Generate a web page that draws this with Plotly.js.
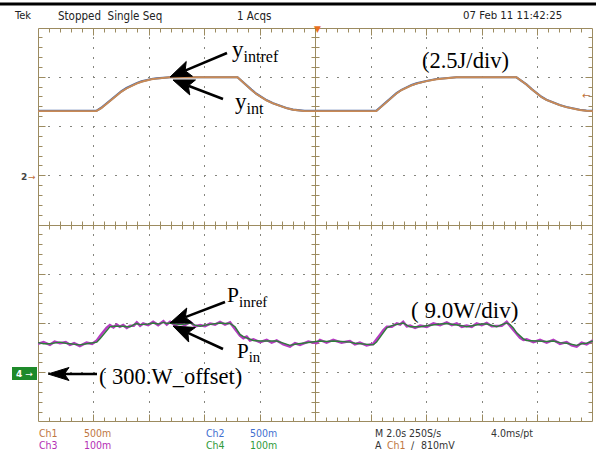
<!DOCTYPE html>
<html><head><meta charset="utf-8">
<script src="https://cdn.plot.ly/plotly-3.0.1.min.js"></script>
<style>html,body{margin:0;padding:0;background:#fff;}#chart{width:596px;height:450px;}</style>
</head><body><div id="chart"></div>
<script>
// ---- DATA ----
// time base: 2.0 s/div, 10 divisions
const timeRange = [0, 20];
// Ch1: y_int (J), Ch2: y_intref (J)   (2.5 J/div)
const yintTime = [0, 2.10, 2.28, 2.46, 2.65, 2.83, 3.01, 3.19, 3.37, 3.55, 3.73, 3.91, 4.09, 4.27, 4.51, 4.75, 7.19, 7.35, 7.51, 7.69, 7.87, 8.05, 8.23, 8.47, 8.71, 8.95, 9.19, 9.40, 9.61, 12.19, 12.37, 12.56, 12.74, 12.92, 13.10, 13.28, 13.46, 13.64, 13.82, 14.0, 14.36, 14.72, 15.08, 17.24, 17.42, 17.6, 17.78, 17.96, 18.14, 18.32, 18.56, 18.8, 19.04, 19.28, 19.52, 19.76, 20.0];
const yintValue = [3.28, 3.28, 3.43, 3.63, 3.87, 4.08, 4.27, 4.43, 4.57, 4.68, 4.77, 4.85, 4.90, 4.93, 4.97, 5.0, 5.0, 4.78, 4.58, 4.36, 4.15, 3.98, 3.83, 3.67, 3.53, 3.43, 3.35, 3.30, 3.28, 3.28, 3.50, 3.75, 3.97, 4.18, 4.35, 4.48, 4.59, 4.68, 4.75, 4.80, 4.90, 4.96, 5.0, 5.0, 4.82, 4.63, 4.40, 4.18, 4.00, 3.85, 3.70, 3.58, 3.48, 3.40, 3.34, 3.30, 3.28];
const yintrefTime = [0, 2.10, 2.28, 2.46, 2.65, 2.83, 3.01, 3.19, 3.37, 3.55, 3.73, 3.91, 4.09, 4.27, 4.51, 4.75, 7.19, 7.35, 7.51, 7.69, 7.87, 8.05, 8.23, 8.47, 8.71, 8.95, 9.19, 9.40, 9.61, 12.19, 12.37, 12.56, 12.74, 12.92, 13.10, 13.28, 13.46, 13.64, 13.82, 14.0, 14.36, 14.72, 15.08, 17.24, 17.42, 17.6, 17.78, 17.96, 18.14, 18.32, 18.56, 18.8, 19.04, 19.28, 19.52, 19.76, 20.0];
const yintrefValue = [3.29, 3.29, 3.45, 3.65, 3.89, 4.10, 4.29, 4.45, 4.59, 4.70, 4.79, 4.86, 4.91, 4.94, 4.98, 5.0, 5.0, 4.79, 4.59, 4.37, 4.16, 3.99, 3.84, 3.68, 3.54, 3.44, 3.36, 3.31, 3.29, 3.29, 3.51, 3.76, 3.98, 4.19, 4.36, 4.49, 4.60, 4.69, 4.76, 4.81, 4.91, 4.97, 5.0, 5.0, 4.83, 4.64, 4.41, 4.19, 4.01, 3.86, 3.71, 3.59, 3.49, 3.41, 3.35, 3.31, 3.29];
// Ch4: P_in (W), Ch3: P_inref (W)   (9.0 W/div, 300 W offset)
const pinTime = [0, 0.2, 0.43, 0.6, 0.79, 1.0, 1.15, 1.3, 1.51, 1.75, 1.95, 2.12, 2.25, 2.35, 2.47, 2.59, 2.72, 2.84, 2.95, 3.07, 3.2, 3.32, 3.45, 3.56, 3.68, 3.79, 3.97, 4.15, 4.33, 4.52, 4.64, 4.76, 4.94, 5.12, 5.3, 5.48, 5.66, 5.84, 6.02, 6.2, 6.38, 6.56, 6.74, 6.92, 7.1, 7.2, 7.28, 7.4, 7.52, 7.64, 7.76, 8.0, 8.24, 8.42, 8.6, 8.84, 9.08, 9.26, 9.44, 9.74, 10.04, 10.16, 10.4, 10.64, 10.94, 11.24, 11.42, 11.6, 11.84, 12.08, 12.2, 12.32, 12.45, 12.57, 12.75, 12.93, 13.05, 13.16, 13.29, 13.41, 13.59, 13.77, 14.01, 14.25, 14.49, 14.73, 14.91, 15.09, 15.27, 15.45, 15.63, 15.81, 15.99, 16.17, 16.35, 16.53, 16.71, 16.89, 17.01, 17.13, 17.25, 17.37, 17.49, 17.61, 17.85, 18.09, 18.33, 18.57, 18.81, 19.05, 19.23, 19.41, 19.59, 19.77, 20.0];
const pinValue = [305.5, 305.3, 305.3, 305.5, 305.6, 305.4, 305.3, 305.2, 305.1, 305.3, 305.5, 305.6, 306.3, 306.9, 307.8, 308.4, 308.5, 308.5, 308.6, 308.5, 308.4, 308.4, 308.8, 309.0, 308.8, 308.8, 308.9, 309.1, 308.9, 309.2, 309.0, 309.1, 308.9, 308.8, 308.9, 309.1, 308.7, 308.5, 308.7, 308.8, 309.0, 309.1, 309.0, 309.0, 308.4, 307.7, 307.0, 306.6, 306.4, 306.1, 305.9, 305.8, 305.8, 305.7, 305.8, 305.4, 305.0, 305.2, 305.3, 305.5, 305.6, 305.8, 305.7, 305.8, 305.7, 305.6, 305.4, 305.3, 305.2, 305.1, 305.6, 306.5, 307.4, 308.2, 308.6, 308.8, 309.0, 309.1, 308.7, 308.4, 308.4, 308.4, 308.6, 308.8, 308.9, 309.0, 308.9, 308.8, 308.6, 308.4, 308.6, 308.8, 308.9, 308.9, 308.7, 308.4, 308.8, 309.1, 308.8, 308.2, 307.3, 306.7, 306.2, 305.9, 305.8, 305.8, 305.7, 305.8, 305.5, 305.4, 305.2, 305.0, 305.3, 305.4, 305.8];
const pinrefValue = [305.3, 305.6, 305.1, 305.7, 305.4, 305.6, 305.1, 305.4, 304.9, 305.5, 305.3, 305.9, 306.8, 307.4, 308.2, 308.7, 308.3, 308.8, 308.4, 308.7, 308.2, 308.6, 308.6, 309.2, 308.6, 309.0, 308.7, 309.3, 308.7, 309.4, 308.8, 309.3, 308.7, 309.0, 308.7, 309.3, 308.5, 308.7, 308.5, 309.0, 308.8, 309.3, 308.8, 309.2, 308.1, 307.4, 306.8, 306.3, 306.6, 305.9, 306.1, 305.6, 306.0, 305.5, 305.9, 305.2, 304.8, 305.4, 305.1, 305.7, 305.4, 306.0, 305.5, 306.0, 305.5, 305.8, 305.2, 305.5, 305.0, 305.3, 306.0, 306.9, 307.8, 308.4, 308.4, 309.0, 308.8, 309.3, 308.5, 308.6, 308.2, 308.6, 308.4, 309.0, 308.7, 309.2, 308.7, 309.0, 308.4, 308.6, 308.4, 309.0, 308.7, 309.1, 308.5, 308.6, 308.6, 309.3, 308.6, 307.9, 307.0, 306.4, 306.0, 306.1, 305.6, 306.0, 305.5, 306.0, 305.3, 305.6, 305.0, 304.8, 305.5, 305.2, 305.9];
// screen scale references
const energyPerDiv = 2.5, energyGroundDiv = 1.0;   // Ch1/Ch2 ground marker
const powerPerDiv = 9.0, powerOffset = 300, powerOffsetDiv = -3.0; // Ch4 marker

// ---- LAYOUT HELPERS ----
const W = 596, H = 450, L = 38, R = 3, T = 28, B = 28;
const PW = W - L - R, PH = H - T - B;
const X = px => (px - L) / PW;
const Y = py => (H - B - py) / PH;
const tan = '#9c8b60', dotc = '#85857e';
const C1 = '#c98a55', C2 = '#4a6aa8', C3 = '#b43cc0', C4 = '#2e7d3a';

const traces = [
  {x: yintrefTime, y: yintrefValue, yaxis: 'y2', mode: 'lines', line: {color: C2, width: 2.2}, name: 'y_intref'},
  {x: yintTime, y: yintValue, yaxis: 'y2', mode: 'lines', line: {color: C1, width: 1.9}, name: 'y_int'},
  {x: pinTime, y: pinrefValue, yaxis: 'y3', mode: 'lines', line: {color: C3, width: 2.6}, name: 'P_inref'},
  {x: pinTime, y: pinValue, yaxis: 'y3', mode: 'lines', line: {color: C4, width: 1.4}, name: 'P_in'}
];

// graticule drawn in pixel space as paper-referenced shapes (snapped to pixel centres)
const shapes = [];
const gx0 = L, gx1 = W - R, gy0 = T, gy1 = H - B;
const divX = PW / 10, divY = PH / 8;
const snap = v => Math.floor(v) + 0.5;
const cx = snap(gx0 + 5 * divX), cy = snap(gy0 + 4 * divY);
function seg(x0, y0, x1, y1, color, width) {
  shapes.push({type: 'line', xref: 'paper', yref: 'paper', x0: X(x0), x1: X(x1), y0: Y(y0), y1: Y(y1),
    line: {color: color, width: width || 1}, layer: 'below'});
}
// dotted major lines: short dashes every fifth of a division
for (let k = 1; k < 10; k++) {
  if (k === 5) continue;
  const x = snap(gx0 + k * divX);
  for (let m = 1; m < 40; m++) { const y = Math.round(gy0 + m * divY / 5); seg(x, y - 1, x, y + 1, dotc, 1); }
}
for (let k = 1; k < 8; k++) {
  if (k === 4) continue;
  const y = snap(gy0 + k * divY);
  for (let m = 1; m < 50; m++) { const x = Math.round(gx0 + m * divX / 5); seg(x - 1, y, x + 1, y, dotc, 1); }
}
// border and centre cross
const bx0 = snap(gx0), bx1 = snap(gx1) - 1, by0 = snap(gy0), by1 = snap(gy1) - 1;
seg(bx0, by0, bx1, by0, tan); seg(bx0, by1, bx1, by1, tan);
seg(bx0, by0, bx0, by1, tan); seg(bx1, by0, bx1, by1, tan);
seg(bx0, cy, bx1, cy, tan); seg(cx, by0, cx, by1, tan);
for (let i = 1; i < 50; i++) {
  const x = snap(gx0 + i * divX / 5), len = (i % 5 === 0) ? 7 : 4;
  seg(x, by0, x, by0 + len, tan); seg(x, by1, x, by1 - len, tan);
  seg(x, cy - 4, x, cy + 4, tan);
}
for (let j = 1; j < 40; j++) {
  const y = snap(gy0 + j * divY / 5), len = (j % 5 === 0) ? 7 : 4;
  seg(bx0, y, bx0 + len, y, tan); seg(bx1, y, bx1 - len, y, tan);
  seg(cx - 4, y, cx + 4, y, tan);
}
// top black bar
shapes.push({type: 'rect', xref: 'paper', yref: 'paper', x0: X(0), x1: X(596), y0: Y(5.5), y1: Y(2.5), fillcolor: '#000', line: {width: 0}});
// channel 4 marker box
shapes.push({type: 'rect', xref: 'paper', yref: 'paper', x0: X(12), x1: X(37), y0: Y(380), y1: Y(367), fillcolor: '#1e8a2a', line: {width: 0}});

// arrows (pixel geometry -> paper)
function arrow(tx, ty, px, py, len, hw) {
  const dx = tx - px, dy = ty - py, n = Math.hypot(dx, dy);
  const ux = dx / n, uy = dy / n, nx = -uy, ny = ux;
  const bx = px + ux * len, by = py + uy * len;
  const mx = px + ux * len * 0.78, my = py + uy * len * 0.78;
  shapes.push({type: 'line', xref: 'paper', yref: 'paper', x0: X(tx), y0: Y(ty), x1: X(mx), y1: Y(my), line: {color: '#000', width: 2.6}});
  const pts = [[px, py], [bx + nx * hw, by + ny * hw], [mx, my], [bx - nx * hw, by - ny * hw]];
  const path = 'M' + pts.map(p => X(p[0]).toFixed(5) + ',' + Y(p[1]).toFixed(5)).join(' L') + ' Z';
  shapes.push({type: 'path', xref: 'paper', yref: 'paper', path: path, fillcolor: '#000', line: {color: '#000', width: 1}});
}
arrow(227, 53, 170, 77, 21, 8);
arrow(223, 99, 173, 80, 21, 8);
arrow(225, 302, 170, 323, 21, 8);
arrow(223, 349, 173, 326, 21, 8);
arrow(97, 374, 48, 374, 21, 6.5);

const ann = [];
function txt(text, px, py, opt) {
  opt = opt || {};
  ann.push({text: text, xref: 'paper', yref: 'paper', x: X(px), y: Y(py), showarrow: false,
    xanchor: opt.xa || 'left', yanchor: opt.ya || 'middle', borderpad: 0,
    font: {family: opt.family || 'Liberation Sans Narrow, DejaVu Sans Condensed, Liberation Sans, sans-serif', size: opt.size || 11, color: opt.color || '#222'}});
}
const serif = 'Liberation Serif, Times New Roman, serif';
// header
txt('Tek', 13, 16);
txt('Stopped\u00a0 Single Seq', 57, 16, {size: 11.5});
txt('1 Acqs', 236, 16, {size: 11.5});
txt('07 Feb 11 11:42:25', 462, 16, {size: 11.3});
// footer
const fs = 10.5;
txt('Ch1', 38, 432.5, {color: '#c0773f', size: fs});
txt('500m', 83, 432.5, {color: '#c0773f', size: fs});
txt('Ch2', 205, 432.5, {color: '#3f6fd0', size: fs});
txt('500m', 249, 432.5, {color: '#3f6fd0', size: fs});
txt('M 2.0s 250S/s', 374, 432.5, {color: '#333', size: fs});
txt('4.0ms/pt', 490, 432.5, {color: '#333', size: fs});
txt('Ch3', 38, 445, {color: '#b42fb4', size: fs});
txt('100m', 83, 445, {color: '#b42fb4', size: fs});
txt('Ch4', 205, 445, {color: '#2f9a3a', size: fs});
txt('100m', 249, 445, {color: '#2f9a3a', size: fs});
txt('A', 374, 445, {color: '#333', size: fs});
txt('Ch1', 386, 445, {color: '#c0773f', size: fs});
txt('\u2215', 410, 445, {color: '#333', size: fs});
txt('810mV', 420, 445, {color: '#333', size: fs});
// labels
txt('y<sub>intref</sub>', 231, 51, {family: serif, size: 23, color: '#000'});
txt('y<sub>int</sub>', 234, 103, {family: serif, size: 23, color: '#000'});
txt('(2.5J/div)', 465, 61, {family: serif, size: 22.5, color: '#000', xa: 'center'});
txt('P<sub>inref</sub>', 226, 296, {family: serif, size: 21.5, color: '#000'});
txt('P<sub>in</sub>', 236, 352, {family: serif, size: 21, color: '#000'});
txt('( 300.W_offset)', 98, 376, {family: serif, size: 22.5, color: '#000'});
txt('( 9.0W/div)', 464, 310, {family: serif, size: 23, color: '#000', xa: 'center'});
// scope markers
txt('<b>2</b>', 24, 177, {size: 9, color: '#444', xa: 'center', family: 'DejaVu Sans, sans-serif'});
txt('\u2192', 32, 177, {size: 9, color: '#c0703a', xa: 'center', family: 'DejaVu Sans, sans-serif'});
txt('<b>4</b> \u2192', 24.5, 373.5, {size: 9, color: '#fff', xa: 'center', family: 'DejaVu Sans, sans-serif'});
txt('\u2190', 586, 96, {size: 10, color: '#c0703a', xa: 'center', family: 'DejaVu Sans, sans-serif'});
txt('\u25BC', 317, 29, {size: 9, color: '#e8701e', xa: 'center', family: 'DejaVu Sans, sans-serif'});

const hidden = {showticklabels: false, showgrid: false, zeroline: false, showline: false, ticks: '', fixedrange: true};
const layout = {
  width: W, height: H, margin: {l: L, r: R, t: T, b: B, pad: 0},
  paper_bgcolor: '#fff', plot_bgcolor: 'rgba(0,0,0,0)', showlegend: false, hovermode: false,
  xaxis: Object.assign({}, hidden, {range: timeRange}),
  yaxis: Object.assign({}, hidden, {range: [-4, 4]}),
  yaxis2: {overlaying: 'y', visible: false, fixedrange: true,
    range: [(-4 - energyGroundDiv) * energyPerDiv, (4 - energyGroundDiv) * energyPerDiv]},
  yaxis3: {overlaying: 'y', visible: false, fixedrange: true,
    range: [powerOffset + (-4 - powerOffsetDiv) * powerPerDiv, powerOffset + (4 - powerOffsetDiv) * powerPerDiv]},
  shapes: shapes, annotations: ann
};
Plotly.newPlot('chart', traces, layout, {displayModeBar: false, staticPlot: true});
</script></body></html>
